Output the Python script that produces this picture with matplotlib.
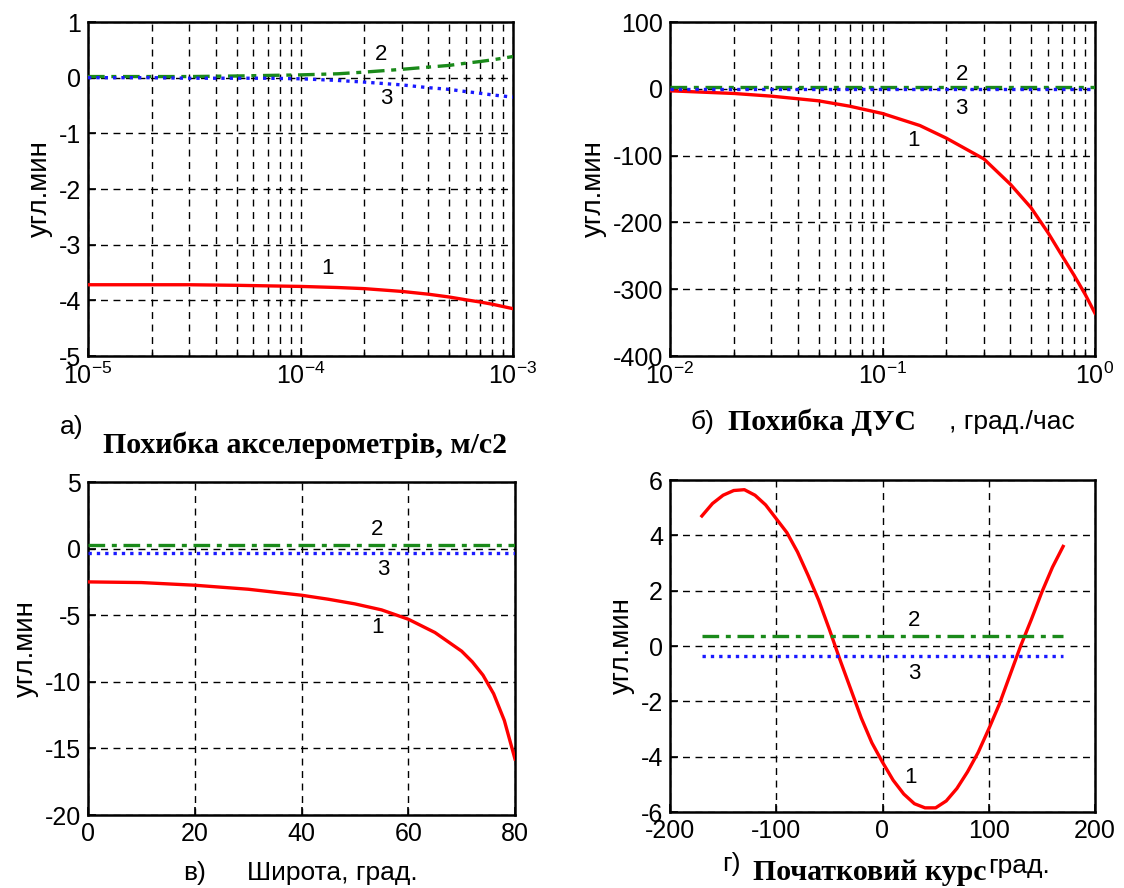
import matplotlib
matplotlib.use("Agg")
import matplotlib.pyplot as plt

plt.rcParams['font.family'] = ['Liberation Sans', 'DejaVu Sans']
plt.rcParams['mathtext.fontset'] = 'custom'
plt.rcParams['mathtext.rm'] = 'Liberation Sans'
plt.rcParams['mathtext.it'] = 'Liberation Sans'
plt.rcParams['axes.unicode_minus'] = False

# ---- Panel a: accelerometer error ----
a_x = [1e-5, 2e-5, 3e-5, 5e-5, 7e-5, 1e-4, 1.5e-4, 2e-4, 3e-4, 4e-4, 5e-4, 6e-4, 7e-4, 8e-4, 1e-3]
a_y1 = [-3.72, -3.72, -3.72, -3.73, -3.74, -3.75, -3.77, -3.79, -3.84, -3.89, -3.94, -3.99, -4.03, -4.07, -4.15]
a_y2 = [0.02, 0.02, 0.02, 0.03, 0.04, 0.05, 0.07, 0.10, 0.15, 0.19, 0.22, 0.26, 0.29, 0.32, 0.38]
a_y3 = [0.0, 0.0, -0.01, -0.01, -0.01, -0.02, -0.05, -0.08, -0.13, -0.18, -0.21, -0.25, -0.28, -0.31, -0.35]

# ---- Panel b: gyro error ----
b_x = [0.01, 0.02, 0.03, 0.05, 0.07, 0.1, 0.15, 0.2, 0.3, 0.4, 0.5, 0.6, 0.7, 0.8, 0.9, 1.0]
b_y1 = [-3, -7, -11, -18, -26, -37, -55, -74, -105, -143, -178, -215, -250, -280, -308, -336]
b_y2 = [2] * len(b_x)
b_y3 = [-1] * len(b_x)

# ---- Panel c: latitude ----
c_x = [0, 10, 20, 30, 40, 45, 50, 55, 60, 65, 70, 72, 74, 76, 78, 80]
c_y1 = [-2.5, -2.55, -2.75, -3.05, -3.5, -3.8, -4.15, -4.6, -5.3, -6.3, -7.7, -8.5, -9.5, -10.9, -12.9, -15.8]
c_y2 = [0.3] * len(c_x)
c_y3 = [-0.3] * len(c_x)

# ---- Panel d: initial heading ----
d_x = list(range(-170, 171, 10))
d_y1 = [4.7, 5.15, 5.45, 5.62, 5.65, 5.45, 5.1, 4.6, 4.1, 3.4, 2.55, 1.65, 0.6, -0.5,
        -1.55, -2.6, -3.5, -4.2, -4.85, -5.35, -5.7, -5.85, -5.85, -5.6, -5.15, -4.55,
        -3.85, -3.0, -2.1, -1.05, 0.0, 0.95, 1.95, 2.85, 3.6]
d_y2 = [0.35] * len(d_x)
d_y3 = [-0.35] * len(d_x)

W, H = 1124, 888
fig = plt.figure(figsize=(W / 100, H / 100), dpi=100)

def rect(l, r, t, b):
    return [l / W, 1 - b / H, (r - l) / W, (b - t) / H]

TICK_FS = 18
YL_FS = 20
LBL_FS = 16
LW_RED = 2.4

def style(ax):
    for s in ax.spines.values():
        s.set_linewidth(1.8)
    ax.tick_params(direction='in', labelsize=TICK_FS, width=1.2, length=6, which='major', pad=5)
    ax.tick_params(direction='in', which='minor', length=3, width=1.0)
    ax.set_ylabel('угл.мин', fontsize=YL_FS, labelpad=4)

def draw(ax, x, y1, y2, y3):
    ax.plot(x, y1, color='red', lw=LW_RED, zorder=3)
    ax.plot(x, y2, color='#1a8a1a', lw=2.4, linestyle=(0, (5, 2, 1.5, 2)), zorder=3)
    ax.plot(x, y3, color='#1a1aff', lw=2.4, linestyle=(0, (1, 1.5)), zorder=3)

gridkw = dict(color='black', linestyle=(0, (5, 4)), linewidth=1.0)

# Panel a
ax = fig.add_axes(rect(88, 513, 22, 356))
draw(ax, a_x, a_y1, a_y2, a_y3)
ax.set_xscale('log')
ax.set_xlim(1e-5, 1e-3)
ax.set_ylim(-5, 1)
ax.set_yticks([-5, -4, -3, -2, -1, 0, 1])
ax.grid(True, which='major', **gridkw)
ax.grid(True, which='minor', axis='x', **gridkw)
style(ax)
ax.text(2.4e-4, 0.41, '2', fontsize=LBL_FS, ha='center', va='center')
ax.text(2.54e-4, -0.37, '3', fontsize=LBL_FS, ha='center', va='center')
ax.text(1.34e-4, -3.43, '1', fontsize=LBL_FS, ha='center', va='center')

# Panel b
ax = fig.add_axes(rect(670, 1095, 22, 356))
draw(ax, b_x, b_y1, b_y2, b_y3)
ax.set_xscale('log')
ax.set_xlim(1e-2, 1)
ax.set_ylim(-400, 100)
ax.set_yticks([-400, -300, -200, -100, 0, 100])
ax.grid(True, which='major', **gridkw)
ax.grid(True, which='minor', axis='x', **gridkw)
style(ax)
ax.text(0.236, 21, '2', fontsize=LBL_FS, ha='center', va='center')
ax.text(0.236, -30, '3', fontsize=LBL_FS, ha='center', va='center')
ax.text(0.14, -77, '1', fontsize=LBL_FS, ha='center', va='center')

# Panel c
ax = fig.add_axes(rect(88, 515, 482, 815))
draw(ax, c_x, c_y1, c_y2, c_y3)
ax.set_xlim(0, 80)
ax.set_ylim(-20, 5)
ax.set_xticks([0, 20, 40, 60, 80])
ax.set_yticks([-20, -15, -10, -5, 0, 5])
ax.grid(True, which='major', **gridkw)
style(ax)
ax.text(54.2, 1.45, '2', fontsize=LBL_FS, ha='center', va='center')
ax.text(55.3, -1.55, '3', fontsize=LBL_FS, ha='center', va='center')
ax.text(54.2, -5.9, '1', fontsize=LBL_FS, ha='center', va='center')

# Panel d
ax = fig.add_axes(rect(670, 1095, 480, 812))
draw(ax, d_x, d_y1, d_y2, d_y3)
ax.set_xlim(-200, 200)
ax.set_ylim(-6, 6)
ax.set_xticks([-200, -100, 0, 100, 200])
ax.set_yticks([-6, -4, -2, 0, 2, 4, 6])
ax.grid(True, which='major', **gridkw)
style(ax)
ax.text(30, 0.92, '2', fontsize=LBL_FS, ha='center', va='center')
ax.text(30, -1.0, '3', fontsize=LBL_FS, ha='center', va='center')
ax.text(26, -4.77, '1', fontsize=LBL_FS, ha='center', va='center')

# Bottom captions
SERIF = ['Liberation Serif', 'DejaVu Serif']
BOLD_FS = 21.5
SANS_FS = 19
def ftext(xp, yp, s, **kw):
    fig.text(xp / W, 1 - yp / H, s, va='center', ha='left', **kw)

ftext(60, 427, 'а)', fontsize=SANS_FS)
ftext(103, 445, 'Похибка акселерометрів, м/с2', fontsize=BOLD_FS, fontweight='bold', family=SERIF)
ftext(691, 422, 'б)', fontsize=SANS_FS)
ftext(728, 422, 'Похибка ДУС', fontsize=BOLD_FS, fontweight='bold', family=SERIF)
ftext(949, 422, ', град./час', fontsize=SANS_FS)
ftext(183, 873, 'в)', fontsize=SANS_FS)
ftext(247, 873, 'Широта, град.', fontsize=SANS_FS)
ftext(722, 864, 'г)', fontsize=SANS_FS)
ftext(753, 872, 'Початковий курс', fontsize=BOLD_FS, fontweight='bold', family=SERIF)
ftext(988, 866, 'град.', fontsize=SANS_FS)

fig.savefig('out.png', dpi=100, facecolor='white')
